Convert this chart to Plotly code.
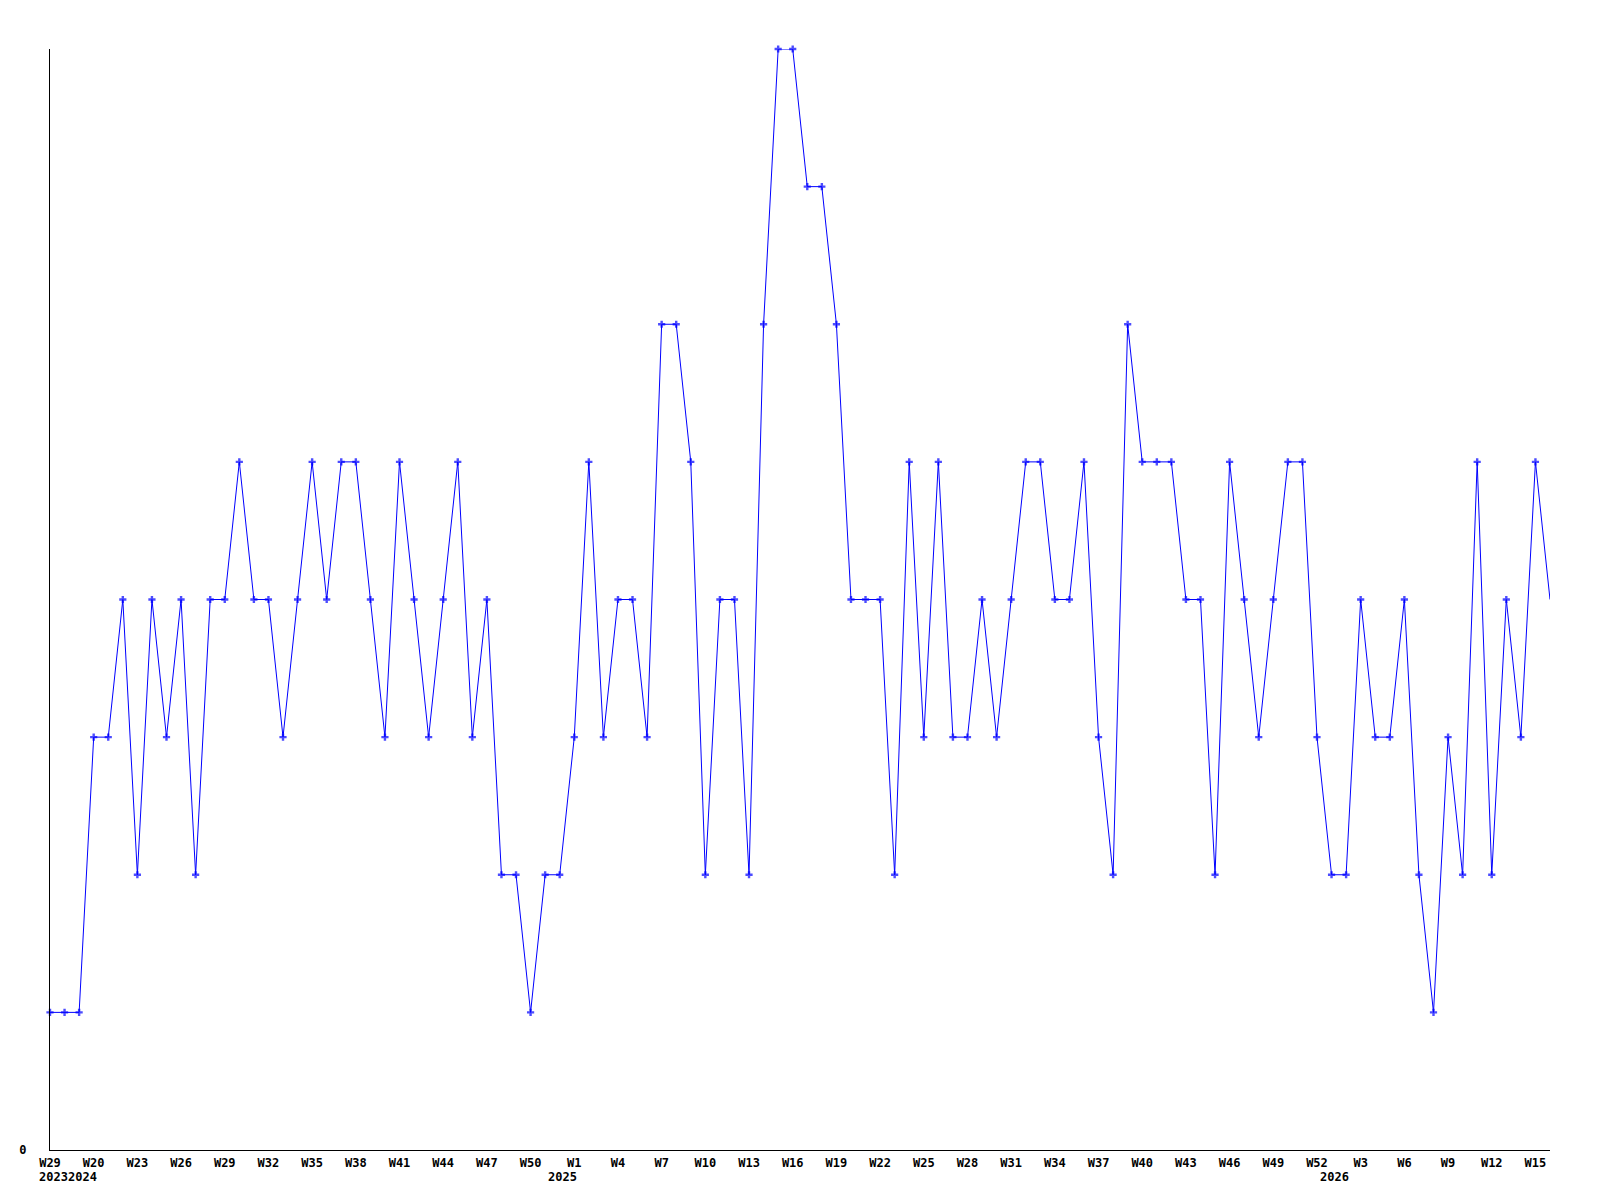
import plotly.graph_objects as go

# Week labels for each data point (ISO weeks)
week_labels = (["W29"]
               + ["W%d" % w for w in range(18, 53)]
               + ["W%d" % w for w in range(1, 53)]
               + ["W%d" % w for w in range(1, 17)])

values = [1, 1, 1, 3, 3, 4, 2, 4, 3, 4,
          2, 4, 4, 5, 4, 4, 3, 4, 5, 4,
          5, 5, 4, 3, 5, 4, 3, 4, 5, 3,
          4, 2, 2, 1, 2, 2, 3, 5, 3, 4,
          4, 3, 6, 6, 5, 2, 4, 4, 2, 6,
          8, 8, 7, 7, 6, 4, 4, 4, 2, 5,
          3, 5, 3, 3, 4, 3, 4, 5, 5, 4,
          4, 5, 3, 2, 6, 5, 5, 5, 4, 4,
          2, 5, 4, 3, 4, 5, 5, 3, 2, 2,
          4, 3, 3, 4, 2, 1, 3, 2, 5, 2,
          4, 3, 5, 4]

year_labels = ["2023", "2024", "2025", "2026"]
year_label_pos = [0.27, 2.2, 35.2, 88.2]

x = list(range(len(values)))
tick_idx = list(range(0, len(values), 3))

# the final (current, incomplete) week is drawn without a marker
marker_sizes = [6] * (len(values) - 1) + [0]

fig = go.Figure()
fig.add_trace(go.Scatter(
    x=x, y=values, mode="lines+markers",
    line=dict(color="#0000ff", width=1),
    marker=dict(symbol="cross", size=marker_sizes, color="#0000ff",
                line=dict(width=0)),
    cliponaxis=False,
    hoverinfo="skip", showlegend=False,
))

font = dict(family="DejaVu Sans Mono", size=12, color="#000000", weight="bold")

for lbl, pos in zip(year_labels, year_label_pos):
    fig.add_annotation(x=pos, xref="x", y=0, yref="paper", yshift=-27,
                       text=lbl, showarrow=False, xanchor="center",
                       yanchor="middle", font=font)

# page body has an 8px default margin, so the figure is trimmed accordingly
fig.update_layout(
    width=1592, height=1192,
    margin=dict(l=42, r=50, t=41, b=50),
    paper_bgcolor="white", plot_bgcolor="white",
    xaxis=dict(range=[0, len(values) - 1], tickvals=tick_idx,
               ticktext=[week_labels[i] for i in tick_idx],
               showgrid=False, zeroline=False, showline=True,
               linecolor="black", linewidth=1, ticks="", tickfont=font,
               ticklabelstandoff=2),
    yaxis=dict(range=[0, 8], tickvals=[0], ticktext=["0"],
               showgrid=False, zeroline=False, showline=True,
               linecolor="black", linewidth=1, ticks="", tickfont=font,
               ticklabelstandoff=20),
)

fig.write_html("out.html")
